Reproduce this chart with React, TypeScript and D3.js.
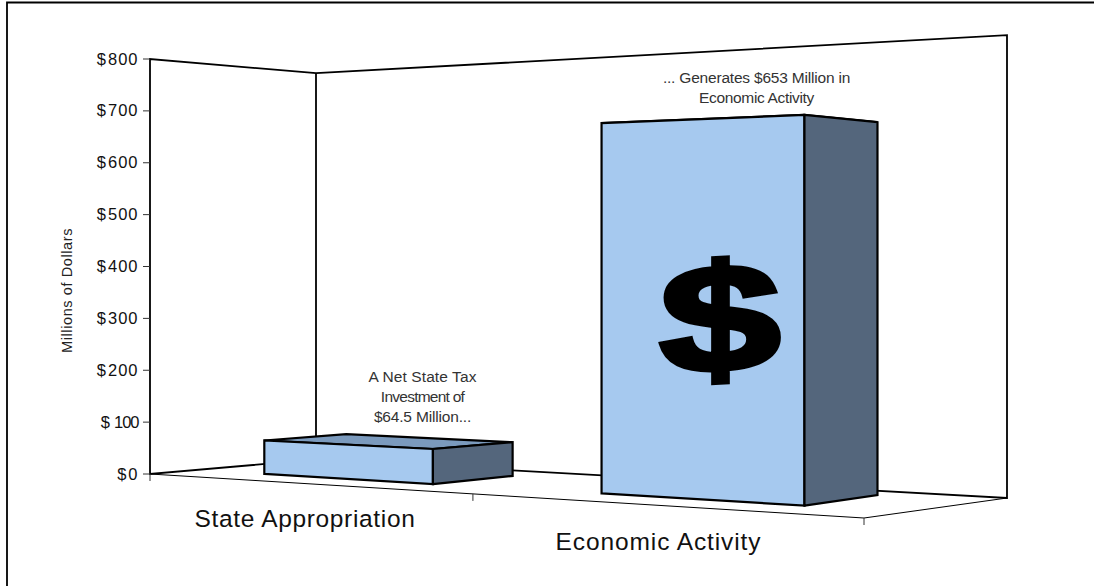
import React from "react";
import * as d3 from "d3";

const W = 1094;
const H = 586;

const categories = ["State Appropriation", "Economic Activity"];
const values = [64.5, 653];
const axisTicks = [0, 100, 200, 300, 400, 500, 600, 700, 800];
const yTitle = "Millions of Dollars";
const noteOne = ["A Net State Tax", "Investment of", "$64.5 Million..."];
const noteTwo = ["... Generates $653 Million in", "Economic Activity"];

// Footprint of each bar on the floor, as fractions of width (u) and depth (v)
const barU = [[0.11, 0.37], [0.605, 0.872]];
const barUBack = [0.37, 0.865];
const barV = [[0.27, 0.77], [0.295, 0.833]];
const catTicks = [0, 0.493, 1];

// Perspective of the chart box
const A = [150, 474], B = [864, 518], C = [1007, 498], D = [316, 459.5];
const sx = A[0] - B[0] + C[0] - D[0];
const sy = A[1] - B[1] + C[1] - D[1];
const dx1 = B[0] - C[0], dx2 = D[0] - C[0], dy1 = B[1] - C[1], dy2 = D[1] - C[1];
const den = dx1 * dy2 - dx2 * dy1;
const g = (sx * dy2 - dx2 * sy) / den;
const h = (dx1 * sy - sx * dy1) / den;
const a = B[0] - A[0] + g * B[0], b = D[0] - A[0] + h * D[0];
const d = B[1] - A[1] + g * B[1], e = D[1] - A[1] + h * D[1];

const yLeft = d3.scaleLinear().domain([0, 800]).range([0, 415]);
// Vertical scale shrinks with distance from the viewer
const gv = -0.1775, hv = 0.0742;

function project(u: number, v: number, w: number): [number, number] {
  const q = 1 + g * u + h * v;
  const x = (a * u + b * v + A[0]) / q;
  const y = (d * u + e * v + A[1]) / q - yLeft(w) / (1 + gv * u + hv * v);
  return [x, y];
}
const poly = (pts: [number, number][]) => d3.line()(pts) + "Z";

const FRONT = "#a6c9ef";
const SIDE = "#54667c";
const TOP = "#7b9abd";
const FONT = "'Liberation Sans', Arial, sans-serif";

export default function App() {
  const wallTop = 800;
  const wall = poly([
    project(0, 0, 0), project(0, 0, wallTop), project(0, 1, wallTop), project(1, 1, wallTop),
    project(1, 1, 0), project(0, 1, 0),
  ]);
  const [bx, by] = project(0, 1, 0);
  const [tx, ty] = project(0, 1, wallTop);
  return (
    <svg width={W} height={H} style={{ position: "absolute", left: 0, top: 0, background: "#fff" }} fontFamily={FONT}>
      {/* frame: only its top and left edges fall inside the picture */}
      <path d={d3.line()([[W, 2.5], [7, 2.5], [7, H]]) as string} fill="none" stroke="#000" strokeWidth={1.8} />

      {/* walls */}
      <path d={wall} fill="none" stroke="#000" strokeWidth={1.8} strokeLinejoin="miter" />
      <line x1={tx} y1={ty} x2={bx} y2={by} stroke="#000" strokeWidth={1.8} />
      {/* front floor edges */}
      <path d={d3.line()([project(0, 0, 0), project(1, 0, 0), project(1, 1, 0)]) as string} fill="none" stroke="#000" strokeWidth={1} />

      {/* value axis */}
      {axisTicks.map((t) => {
        const [x, y] = project(0, 0, t);
        const tight = t === 100;
        return (
          <g key={t}>
            <line x1={x - 7} x2={x} y1={y} y2={y} stroke="#333" strokeWidth={1} />
            <text x={x - 11.5} y={y + 5.5} textAnchor="end" fontSize={16.5} fill="#111">
              <tspan>$</tspan>
              <tspan dx={tight ? 4 : 2} letterSpacing={tight ? -1 : 1}>{t}</tspan>
            </text>
          </g>
        );
      })}

      {/* category ticks */}
      {catTicks.map((u) => {
        const [x, y] = project(u, 0, 0);
        return <line key={u} x1={x} x2={x} y1={y} y2={y + 7} stroke="#333" strokeWidth={1} />;
      })}

      {/* bars */}
      {values.map((val, i) => {
        const [u0, u1] = barU[i];
        const [v0, v1] = barV[i];
        const ub = barUBack[i];
        return (
          <g key={categories[i]} stroke="#000" strokeWidth={2.2} strokeLinejoin="miter">
            <path d={poly([project(u0, v0, val), project(u1, v0, val), project(ub, v1, val), project(u0, v1, val)])} fill={TOP} />
            <path d={poly([project(u0, v0, 0), project(u1, v0, 0), project(u1, v0, val), project(u0, v0, val)])} fill={FRONT} />
            <path d={poly([project(u1, v0, 0), project(ub, v1, 0), project(ub, v1, val), project(u1, v0, val)])} fill={SIDE} />
          </g>
        );
      })}

      {/* dollar sign */}
      <text
        transform="translate(720 371) skewY(-3) scale(1.43 1)"
        textAnchor="middle"
        fontSize={152}
        fontWeight="bold"
        fill="#000"
        stroke="#000"
        strokeWidth={5}
      >
        $
      </text>

      {/* labels */}
      <text x={305} y={527} textAnchor="middle" fontSize={24.5} fill="#111" letterSpacing={0.66}>{categories[0]}</text>
      <text x={658.5} y={550} textAnchor="middle" fontSize={24.5} fill="#111" letterSpacing={0.9}>{categories[1]}</text>
      <text transform="translate(72 290.5) rotate(-90)" textAnchor="middle" fontSize={14.5} fill="#222" letterSpacing={0.6}>{yTitle}</text>
      {noteOne.map((s, i) => (
        <text key={s} x={422.5} y={381.5 + i * 20} textAnchor="middle" fontSize={15.5} fill="#333" letterSpacing={[0.1, -0.75, -0.17][i]}>{s}</text>
      ))}
      {noteTwo.map((s, i) => (
        <text key={s} x={756.5} y={83 + i * 19.5} textAnchor="middle" fontSize={15.5} fill="#333" letterSpacing={[-0.2, -0.33][i]}>{s}</text>
      ))}
    </svg>
  );
}
